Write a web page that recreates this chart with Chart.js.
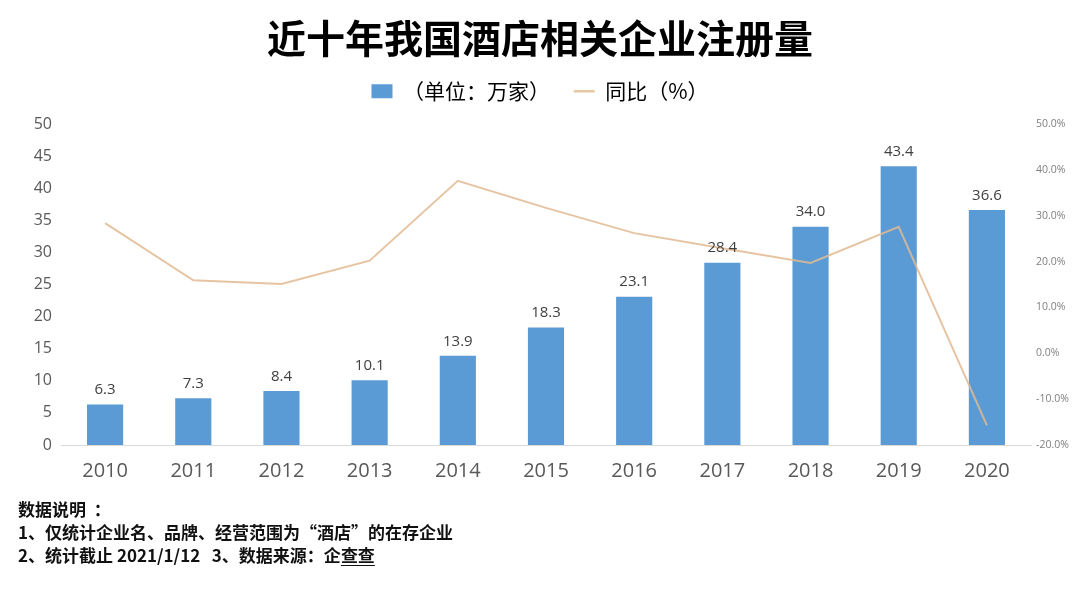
<!DOCTYPE html>
<html><head><meta charset="utf-8">
<script src="https://cdn.jsdelivr.net/npm/chart.js@4/dist/chart.umd.min.js"></script>
<style>
html,body{margin:0;padding:0;background:#fff;}
#wrap{position:relative;width:1080px;height:593px;}
#notes{position:absolute;left:18px;top:497px;font-family:"Noto Sans CJK SC",sans-serif;font-weight:bold;font-size:17px;line-height:23px;color:#111;white-space:pre;}
#notes u{text-decoration-thickness:1px;text-underline-offset:3px;}
</style></head>
<body><div id="wrap"><canvas id="c" width="1080" height="593"></canvas>
<div id="notes">数据说明  ：
1、仅统计企业名、品牌、经营范围为“酒店”的在存企业
2、统计截止 2021/1/12   3、数据来源：企<u>查查</u></div></div>
<script>
const categories = ['2010','2011','2012','2013','2014','2015','2016','2017','2018','2019','2020'];
const registrations = [6.3, 7.3, 8.4, 10.1, 13.9, 18.3, 23.1, 28.4, 34.0, 43.4, 36.6];
const yoyPercent = [28.4, 15.9, 15.1, 20.2, 37.6, 31.7, 26.2, 22.9, 19.7, 27.6, -15.7];
const leftTicks = [0, 5, 10, 15, 20, 25, 30, 35, 40, 45, 50];
const rightTicks = [-20, -10, 0, 10, 20, 30, 40, 50];
const titleText = '近十年我国酒店相关企业注册量';
const barLabel = '（单位：万家）';
const lineLabel = '同比（%）';

const barColor = '#5b9bd5';
const lineColor = 'rgba(226,186,146,0.85)';

const barValueLabels = {
  id: 'barValueLabels',
  afterDatasetsDraw(chart) {
    const ctx = chart.ctx;
    const meta = chart.getDatasetMeta(1);
    ctx.save();
    ctx.font = '15px "Open Sans", sans-serif';
    ctx.fillStyle = '#404040';
    ctx.textAlign = 'center';
    ctx.textBaseline = 'bottom';
    meta.data.forEach((el, i) => {
      ctx.fillText(registrations[i].toFixed(1), el.x, el.y - 7);
    });
    ctx.restore();
  }
};

new Chart(document.getElementById('c'), {
  data: {
    labels: categories,
    datasets: [
      {
        type: 'line', label: lineLabel, data: yoyPercent, yAxisID: 'y1',
        borderColor: lineColor, backgroundColor: lineColor, borderWidth: 2,
        pointRadius: 0, tension: 0, order: 0
      },
      {
        type: 'bar', label: barLabel, data: registrations, yAxisID: 'y',
        backgroundColor: barColor, barPercentage: 0.41, categoryPercentage: 1, order: 1
      }
    ]
  },
  options: {
    responsive: false, animation: false,
    layout: { padding: { left: 0, right: 0, top: 0, bottom: 108 } },
    plugins: {
      tooltip: { enabled: false },
      title: {
        display: true, text: titleText, color: '#000',
        font: { family: '"Noto Sans CJK SC", sans-serif', size: 39, weight: 'bold' },
        padding: { top: 15, bottom: 0 }
      },
      subtitle: {
        display: true, text: ' ', weight: 500,
        font: { size: 1 }, padding: { top: 0, bottom: 11 }
      },
      legend: {
        display: true, position: 'top',
        labels: {
          color: '#404040', usePointStyle: true, boxHeight: 14, pointStyleWidth: 21,
          font: { family: '"Noto Sans CJK SC", sans-serif', size: 21 },
          padding: 19,
          generateLabels(chart) {
            return [
              { text: barLabel + ' ', fillStyle: barColor, strokeStyle: barColor, lineWidth: 0, pointStyle: 'rect', datasetIndex: 1 },
              { text: lineLabel, fillStyle: '#e6c7a6', strokeStyle: '#e6c7a6', lineWidth: 2.5, pointStyle: 'line', datasetIndex: 0 }
            ];
          }
        }
      }
    },
    scales: {
      x: {
        offset: true,
        grid: { display: false },
        border: { display: true, color: '#d9d9d9' },
        ticks: { color: '#595959', font: { family: '"Open Sans", sans-serif', size: 20 }, padding: 6 },
        afterFit(s) { s.height = 40; }
      },
      y: {
        position: 'left', min: 0, max: 50,
        grid: { display: false, drawTicks: false }, border: { display: false },
        afterBuildTicks(s) { s.ticks = leftTicks.map(v => ({ value: v })); },
        ticks: { color: '#595959', font: { family: '"Open Sans", sans-serif', size: 16 }, padding: 9 },
        afterFit(s) { s.width = 61; }
      },
      y1: {
        position: 'right', min: -20, max: 50,
        grid: { display: false, drawTicks: false }, border: { display: false },
        afterBuildTicks(s) { s.ticks = rightTicks.map(v => ({ value: v })); },
        ticks: { color: '#7f7f7f', font: { family: '"Open Sans", sans-serif', size: 10.5 }, padding: 5,
          callback: v => v.toFixed(1) + '%' },
        afterFit(s) { s.width = 49; }
      }
    }
  },
  plugins: [barValueLabels]
});
</script></body></html>
